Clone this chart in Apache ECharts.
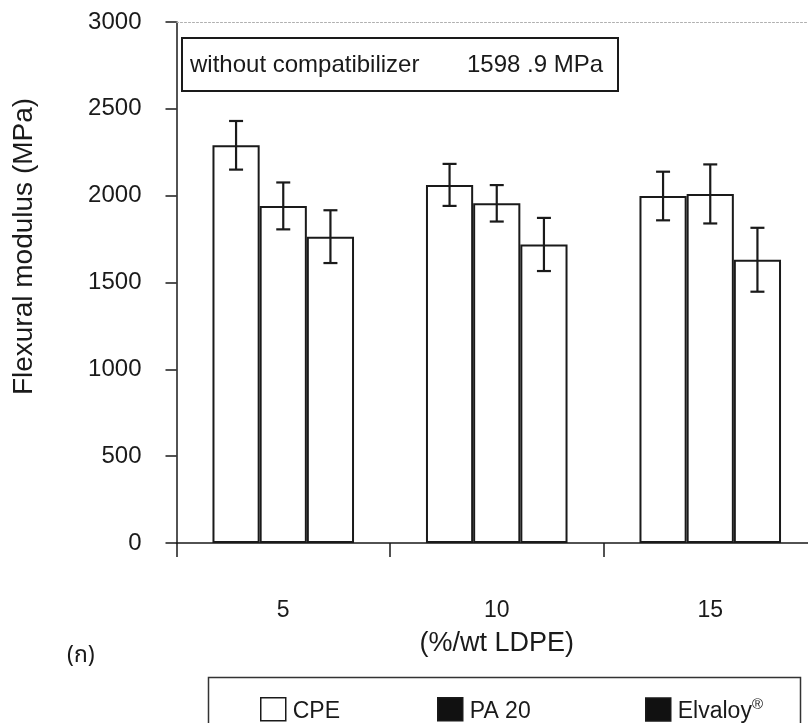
<!DOCTYPE html>
<html>
<head>
<meta charset="utf-8">
<script src="https://cdn.jsdelivr.net/npm/echarts@6/dist/echarts.min.js"></script>
<style>
html,body{margin:0;padding:0;background:#fff;}
#chart{width:808px;height:723px;}
</style>
</head>
<body>
<div id="chart"></div>
<script>
const categories = ['5', '10', '15'];
const seriesNames = ['CPE', 'PA 20', 'Elvaloy'];
const cpeValues = [2290, 2062, 1998];
const cpeErrors = [140, 121, 140];
const pa20Values = [1941, 1956, 2010];
const pa20Errors = [135, 105, 170];
const elvaloyValues = [1764, 1719, 1631];
const elvaloyErrors = [152, 153, 184];
const yTicks = [0, 500, 1000, 1500, 2000, 2500, 3000];
const noteLabel = 'without compatibilizer';
const noteValue = '1598 .9 MPa';

const FONT = '"Liberation Sans", Arial, sans-serif';
const INK = '#1a1a1a';
const GAP = 0.337;

const allValues = [cpeValues, pa20Values, elvaloyValues];
const allErrors = [cpeErrors, pa20Errors, elvaloyErrors];

const chart = echarts.init(document.getElementById('chart'), null, {renderer: 'canvas'});

function barSeries(i) {
  return {
    name: seriesNames[i],
    type: 'bar',
    data: allValues[i],
    barGap: '0%',
    barCategoryGap: (GAP * 100) + '%',
    itemStyle: {color: '#ffffff', borderColor: INK, borderWidth: 2},
    emphasis: {disabled: true},
    z: 2
  };
}

function errSeries(i) {
  return {
    type: 'custom',
    data: categories.map((c, k) => [k, allValues[i][k] - allErrors[i][k], allValues[i][k] + allErrors[i][k]]),
    renderItem: function (params, api) {
      const idx = api.value(0);
      const base = api.coord([idx, 0]);
      const bandW = api.size([1, 0])[0];
      const barW = bandW * (1 - GAP) / 3;
      const cx = base[0] + (i - 1) * barW;
      const yLo = api.coord([idx, api.value(1)])[1];
      const yHi = api.coord([idx, api.value(2)])[1];
      const cap = 7;
      const st = {stroke: INK, lineWidth: 2.2};
      return {
        type: 'group',
        children: [
          {type: 'line', shape: {x1: cx, y1: yLo, x2: cx, y2: yHi}, style: st},
          {type: 'line', shape: {x1: cx - cap, y1: yLo, x2: cx + cap, y2: yLo}, style: st},
          {type: 'line', shape: {x1: cx - cap, y1: yHi, x2: cx + cap, y2: yHi}, style: st}
        ]
      };
    },
    z: 5,
    silent: true
  };
}

function legendAt(name, left, color) {
  return {
    data: [{name: name, icon: 'rect', itemStyle: {color: color, borderColor: INK, borderWidth: 1.5}}],
    left: left,
    top: 692,
    itemWidth: 25,
    itemHeight: 23,
    itemGap: 0,
    selectedMode: false,
    textStyle: {
      fontFamily: FONT, fontSize: 23, color: INK, padding: [4, 0, 0, 2],
      rich: {sup: {fontFamily: FONT, fontSize: 15, color: INK, verticalAlign: 'top', padding: [0, 0, 14, 0]}}
    },
    formatter: function (n) { return n === 'Elvaloy' ? 'Elvaloy{sup|®}' : n; }
  };
}

const option = {
  backgroundColor: '#ffffff',
  animation: false,
  grid: {left: 176.5, width: 640.5, top: 22, bottom: 180, containLabel: false, outerBoundsMode: 'none'},
  legend: [
    legendAt('CPE', 255, '#ffffff'),
    legendAt('PA 20', 432, '#111111'),
    legendAt('Elvaloy', 640, '#111111')
  ],
  xAxis: [{
    type: 'category',
    data: categories,
    position: 'bottom',
    axisLine: {lineStyle: {color: INK, width: 1.5}},
    axisTick: {show: true, length: 14, lineStyle: {color: INK, width: 1.5}},
    axisLabel: {margin: 56, fontFamily: FONT, fontSize: 23, color: INK},
    name: '(%/wt LDPE)',
    nameLocation: 'middle',
    nameGap: 87,
    nameTextStyle: {fontFamily: FONT, fontSize: 27, color: INK}
  }, {
    type: 'category',
    data: categories,
    position: 'top',
    axisLine: {lineStyle: {color: '#b0b0b0', width: 1, type: [2, 2]}},
    axisTick: {show: false},
    axisLabel: {show: false}
  }],
  yAxis: {
    type: 'value',
    min: yTicks[0],
    max: yTicks[yTicks.length - 1],
    interval: yTicks[1] - yTicks[0],
    axisLine: {show: true, lineStyle: {color: INK, width: 1.5}},
    axisTick: {show: true, length: 11, lineStyle: {color: INK, width: 1.5}},
    splitLine: {show: false},
    axisLabel: {margin: 35, fontFamily: FONT, fontSize: 24, color: INK, formatter: function (v) { return String(v); }},
    name: 'Flexural modulus (MPa)',
    nameLocation: 'middle',
    nameGap: 138,
    nameTextStyle: {fontFamily: FONT, fontSize: 28, color: INK, padding: [0, 0, 0, 72]}
  },
  graphic: [
    {
      type: 'group', left: 181, top: 37,
      children: [
        {type: 'rect', shape: {x: 0, y: 0, width: 436, height: 53}, style: {fill: '#fff', stroke: INK, lineWidth: 2}},
        {type: 'text', x: 8, y: 27, style: {text: noteLabel, font: '24px ' + FONT, fill: INK, textVerticalAlign: 'middle'}},
        {type: 'text', x: 285, y: 27, style: {text: noteValue, font: '24px ' + FONT, fill: INK, textVerticalAlign: 'middle'}}
      ],
      z: 10
    },
    {type: 'rect', left: 206, top: 675, shape: {width: 592, height: 70}, style: {fill: 'none', stroke: '#333', lineWidth: 1.5}, z: 1},
    {type: 'text', left: 67, top: 646, style: {text: '(ก)', font: '23px "Noto Sans Thai", "Noto Sans", "DejaVu Sans", sans-serif', fill: INK}}
  ],
  series: [barSeries(0), barSeries(1), barSeries(2), errSeries(0), errSeries(1), errSeries(2)]
};

chart.setOption(option);
</script>
</body>
</html>
